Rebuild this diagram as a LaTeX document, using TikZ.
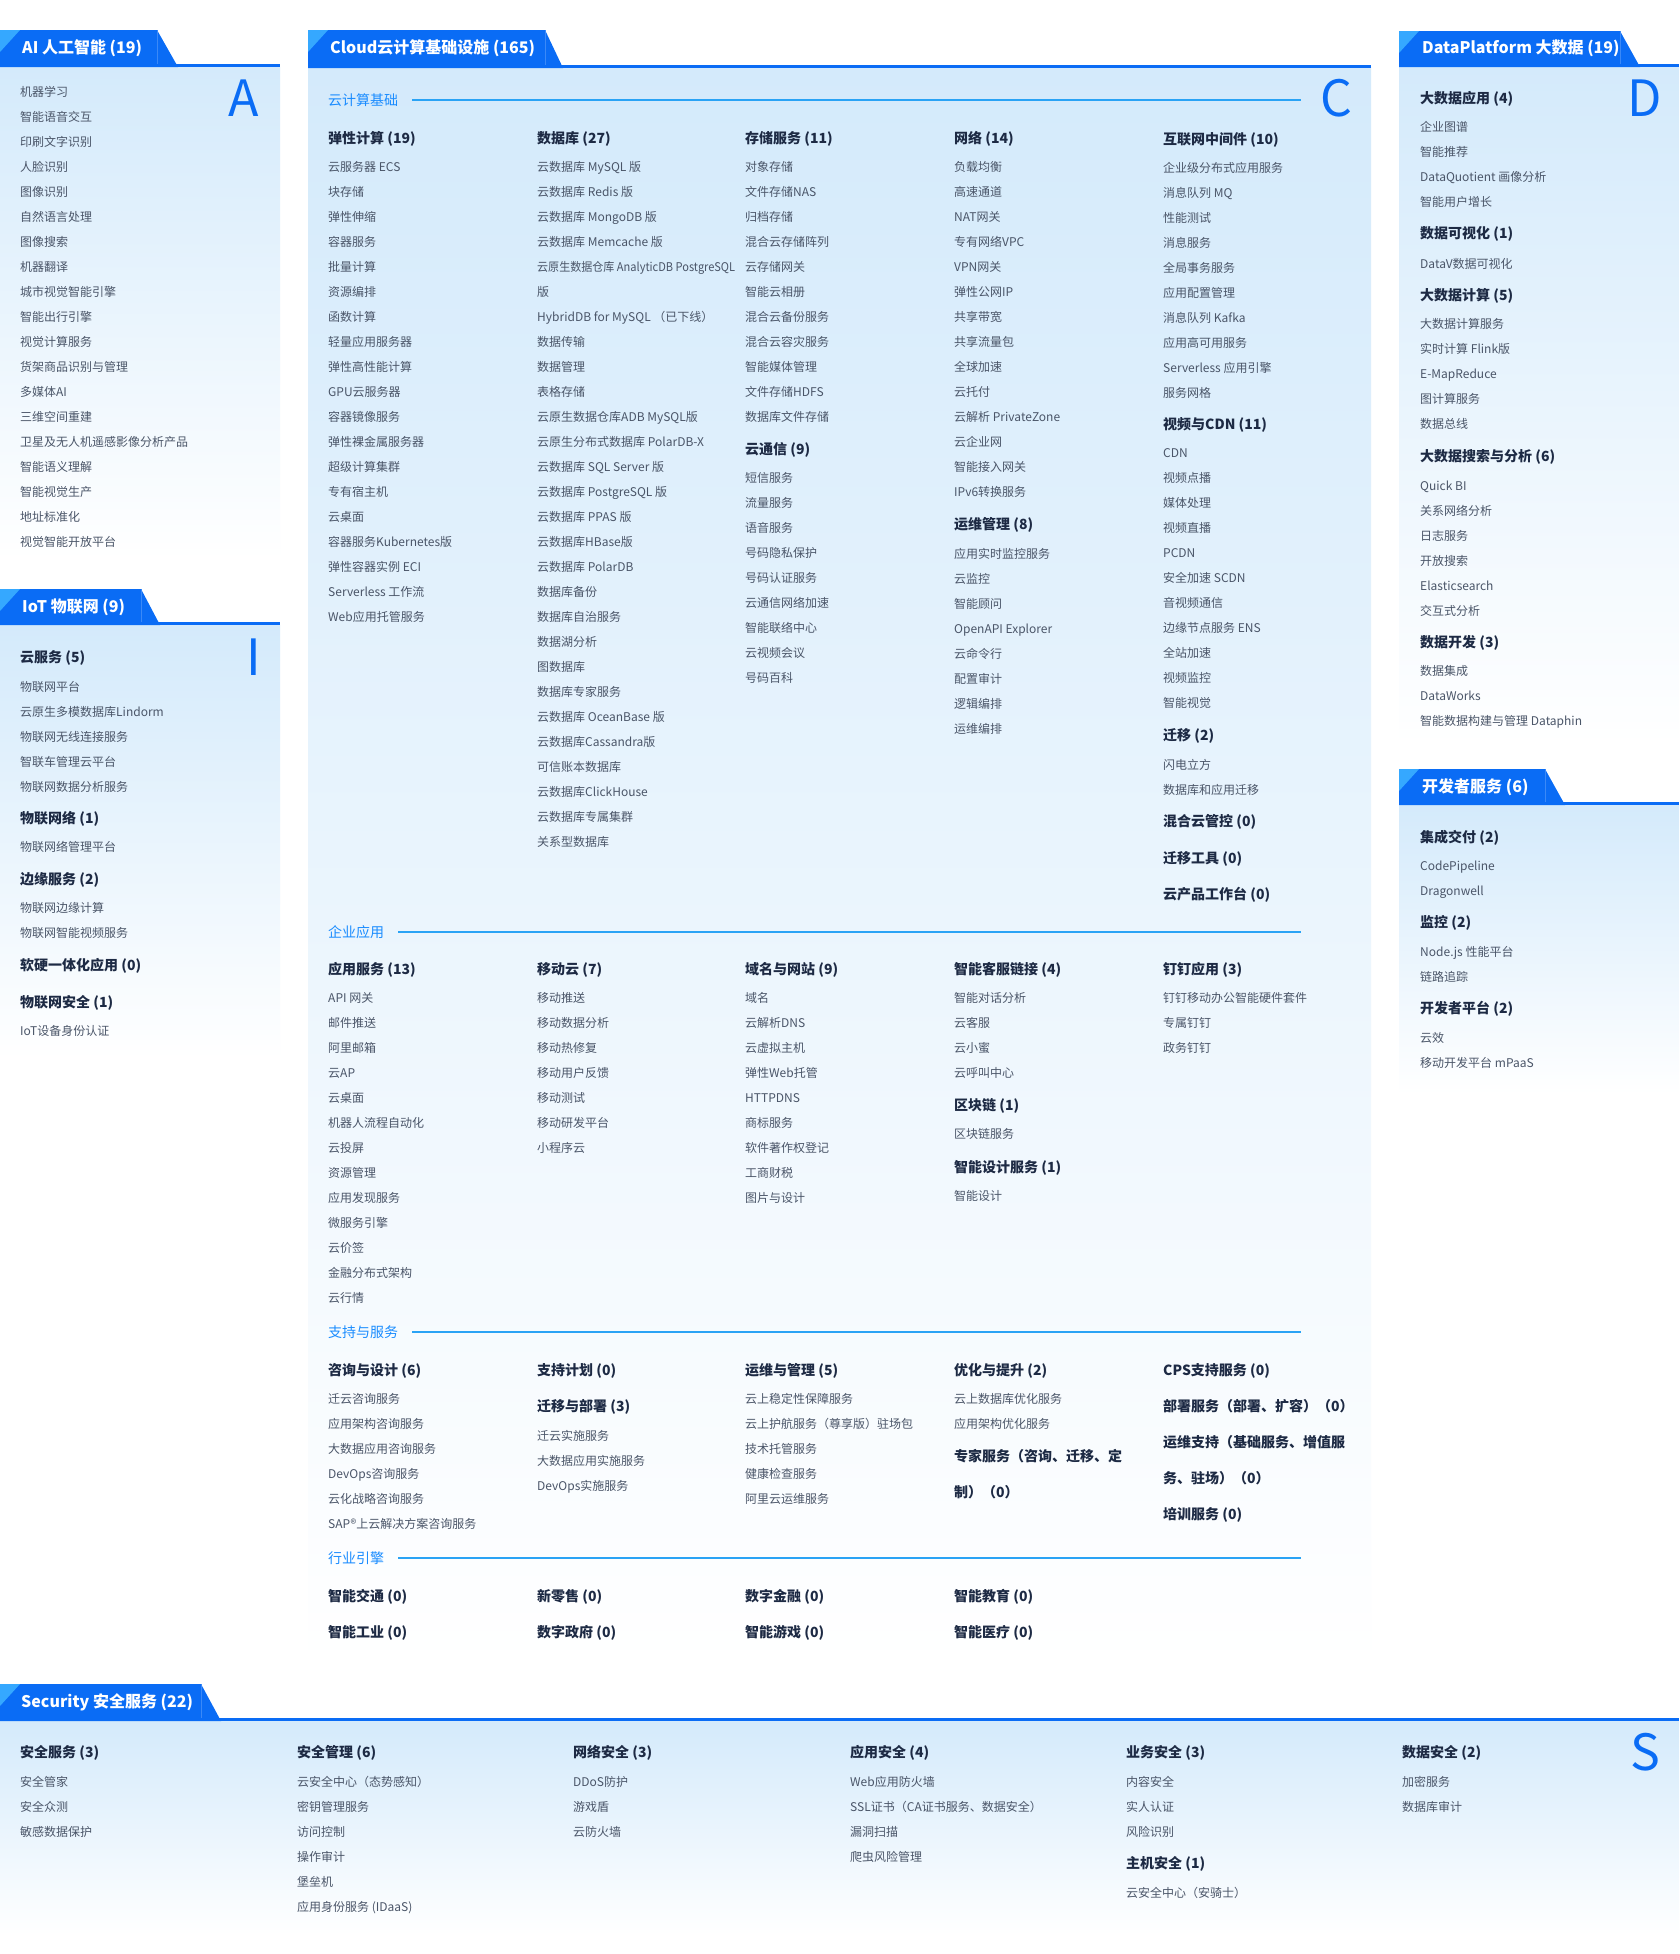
\documentclass[tikz,border=0pt]{standalone}
\usepackage{graphicx}
\usepackage{fontspec}
\setmainfont{Noto Sans CJK SC}
\usetikzlibrary{calc}
\definecolor{tabblue}{HTML}{0A6CF5}
\definecolor{tablight}{HTML}{35A8FF}
\definecolor{seclabel}{HTML}{1A8CFF}
\definecolor{seclinecol}{HTML}{2AA3F5}
\definecolor{hdcol}{HTML}{1D2A44}
\definecolor{itcol}{HTML}{4A5568}
\definecolor{bgtop}{HTML}{D4EAFB}
\definecolor{bgmid}{HTML}{EAF5FE}
\tikzset{
  itm/.style={anchor=base west, inner sep=0pt, text=itcol, font=\fontsize{12}{14}\selectfont},
  hd/.style={anchor=base west, inner sep=0pt, text=hdcol, font=\fontsize{14}{16}\selectfont\bfseries},
  seclab/.style={anchor=base west, inner sep=0pt, text=seclabel, font=\fontsize{14}{16}\selectfont},
  tabtxt/.style={anchor=base west, inner sep=0pt, text=white, font=\fontsize{16}{18}\selectfont\bfseries},
  bigl/.style={inner sep=0pt, text=tabblue, font=\fontsize{50}{52}\selectfont},
  secline/.style={draw=seclinecol, line width=2pt},
}
\newcommand{\Hd}[4]{\node[hd] (#1) at (#2,#3+5.1) {#4};}
\newcommand{\Its}[4]{\foreach \itx [count=\ii from 0] in {#4}{\node[itm] (#1\ii) at (#2,#3+4.4+25*\ii) {\itx};}}
% x0, ytop, xr, xs, ybot, xend
\newcommand{\Tab}[6]{%
  \fill[tabblue] (#1,#2) -- (#3,#2) -- (#4,#5) -- (#1,#5) -- cycle;
  \fill[tabblue] (#1,#5-3) rectangle (#6,#5);
  \fill[tablight] (#1,#2) -- (#1+20,#2) -- (#1,#2+22) -- cycle;
  \draw[tabblue!80!white, line width=0.6pt] (#3,#2) -- (#3,#5-3);
}
\newcommand{\Sec}[4]{% name, x, y, text
  \node[seclab] (#1) at (#2,#3+5.1) {#4};
  \coordinate (#1e) at (1301,#3);
  \draw[secline] ([xshift=14pt]#1.east |- #1e) -- (#1e);
}
\begin{document}
\begin{tikzpicture}[x=1pt,y=-1pt]
\useasboundingbox (0,0) rectangle (1679,1954);
\fill[white] (0,0) rectangle (1679,1954);
% ---------- panels ----------
\shade[top color=bgtop, bottom color=white] (0,67) rectangle (280,560);
\shade[top color=bgtop, bottom color=white] (0,625) rectangle (280,1060);
\shade[top color=bgtop, middle color=bgmid, bottom color=white] (308,67) rectangle (1371,1668);
\shade[top color=bgtop, bottom color=white] (1399,67) rectangle (1679,745);
\shade[top color=bgtop, bottom color=white] (1399,805) rectangle (1679,1095);
\shade[top color=bgtop, bottom color=white] (0,1721) rectangle (1679,1935);
% ---------- tabs ----------
\Tab{0}{30}{157}{178}{67}{280}
\node[tabtxt] (tAI) at (22,48+5.8) {AI 人工智能 (19)};
\Tab{0}{589}{141}{160}{625}{280}
\node[tabtxt] (tIoT) at (22,607+5.8) {IoT 物联网 (9)};
\Tab{308}{30}{545}{563}{68}{1371}
\node[tabtxt] (tCloud) at (330,48+5.8) {Cloud云计算基础设施 (165)};
\Tab{1399}{31}{1620}{1640}{67}{1679}
\node[tabtxt] (tData) at (1422,48+5.8) {DataPlatform 大数据 (19)};
\Tab{1399}{769}{1545}{1565}{805}{1679}
\node[tabtxt] (tDev) at (1422,787+5.8) {开发者服务 (6)};
\Tab{0}{1684}{201}{221}{1721}{1679}
\node[tabtxt] (tSec) at (21,1702+5.8) {Security 安全服务 (22)};
% ---------- big letters ----------
\node[bigl] (LA) at (244,98) {A};
\node[bigl] (LI) at (254,657) {I};
\node[bigl] (LC) at (1336,98) {C};
\node[bigl] (LD) at (1645,98) {D};
\node[bigl] (LS) at (1645,1752) {S};
% ---------- AI ----------
\Its{ai}{20}{92}{机器学习,智能语音交互,印刷文字识别,人脸识别,图像识别,自然语言处理,图像搜索,机器翻译,城市视觉智能引擎,智能出行引擎,视觉计算服务,货架商品识别与管理,多媒体AI,三维空间重建,卫星及无人机遥感影像分析产品,智能语义理解,智能视觉生产,地址标准化,视觉智能开放平台}
% ---------- IoT ----------
\Hd{ih1}{20}{657}{云服务 (5)}
\Its{ia}{20}{687}{物联网平台,云原生多模数据库Lindorm,物联网无线连接服务,智联车管理云平台,物联网数据分析服务}
\Hd{ih2}{20}{818}{物联网络 (1)}
\Its{ib}{20}{847}{物联网络管理平台}
\Hd{ih3}{20}{879}{边缘服务 (2)}
\Its{ic}{20}{908}{物联网边缘计算,物联网智能视频服务}
\Hd{ih4}{20}{965}{软硬一体化应用 (0)}
\Hd{ih5}{20}{1002}{物联网安全 (1)}
\Its{id}{20}{1031}{IoT设备身份认证}
% ---------- Cloud: 云计算基础 ----------
\Sec{s1}{328}{100}{云计算基础}
\Hd{c1h}{328}{138}{弹性计算 (19)}
\Its{c1i}{328}{167}{云服务器 ECS,块存储,弹性伸缩,容器服务,批量计算,资源编排,函数计算,轻量应用服务器,弹性高性能计算,GPU云服务器,容器镜像服务,弹性裸金属服务器,超级计算集群,专有宿主机,云桌面,容器服务Kubernetes版,弹性容器实例 ECI,Serverless 工作流,Web应用托管服务}
\Hd{c2h}{537}{138}{数据库 (27)}
\Its{c2i}{537}{167}{云数据库 MySQL 版,云数据库 Redis 版,云数据库 MongoDB 版,云数据库 Memcache 版,{\scalebox{0.92}[1]{云原生数据仓库 AnalyticDB PostgreSQL}},版,HybridDB for MySQL （已下线）,数据传输,数据管理,表格存储,云原生数据仓库ADB MySQL版,云原生分布式数据库 PolarDB-X,云数据库 SQL Server 版,云数据库 PostgreSQL 版,云数据库 PPAS 版,云数据库HBase版,云数据库 PolarDB,数据库备份,数据库自治服务,数据湖分析,图数据库,数据库专家服务,云数据库 OceanBase 版,云数据库Cassandra版,可信账本数据库,云数据库ClickHouse,云数据库专属集群,关系型数据库}
\Hd{c3h}{745}{138}{存储服务 (11)}
\Its{c3i}{745}{167}{对象存储,文件存储NAS,归档存储,混合云存储阵列,云存储网关,智能云相册,混合云备份服务,混合云容灾服务,智能媒体管理,文件存储HDFS,数据库文件存储}
\Hd{c3h2}{745}{449}{云通信 (9)}
\Its{c3j}{745}{478}{短信服务,流量服务,语音服务,号码隐私保护,号码认证服务,云通信网络加速,智能联络中心,云视频会议,号码百科}
\Hd{c4h}{954}{138}{网络 (14)}
\Its{c4i}{954}{167}{负载均衡,高速通道,NAT网关,专有网络VPC,VPN网关,弹性公网IP,共享带宽,共享流量包,全球加速,云托付,云解析 PrivateZone,云企业网,智能接入网关,IPv6转换服务}
\Hd{c4h2}{954}{524}{运维管理 (8)}
\Its{c4j}{954}{554}{应用实时监控服务,云监控,智能顾问,OpenAPI Explorer,云命令行,配置审计,逻辑编排,运维编排}
\Hd{c5h}{1163}{139}{互联网中间件 (10)}
\Its{c5i}{1163}{168}{企业级分布式应用服务,消息队列 MQ,性能测试,消息服务,全局事务服务,应用配置管理,消息队列 Kafka,应用高可用服务,Serverless 应用引擎,服务网格}
\Hd{c5h2}{1163}{424}{视频与CDN (11)}
\Its{c5j}{1163}{453}{CDN,视频点播,媒体处理,视频直播,PCDN,安全加速 SCDN,音视频通信,边缘节点服务 ENS,全站加速,视频监控,智能视觉}
\Hd{c5h3}{1163}{735}{迁移 (2)}
\Its{c5k}{1163}{765}{闪电立方,数据库和应用迁移}
\Hd{c5h4}{1163}{821}{混合云管控 (0)}
\Hd{c5h5}{1163}{858}{迁移工具 (0)}
\Hd{c5h6}{1163}{894}{云产品工作台 (0)}
% ---------- 企业应用 ----------
\Sec{s2}{328}{932}{企业应用}
\Hd{e1h}{328}{969}{应用服务 (13)}
\Its{e1i}{328}{998}{API 网关,邮件推送,阿里邮箱,云AP,云桌面,机器人流程自动化,云投屏,资源管理,应用发现服务,微服务引擎,云价签,金融分布式架构,云行情}
\Hd{e2h}{537}{969}{移动云 (7)}
\Its{e2i}{537}{998}{移动推送,移动数据分析,移动热修复,移动用户反馈,移动测试,移动研发平台,小程序云}
\Hd{e3h}{745}{969}{域名与网站 (9)}
\Its{e3i}{745}{998}{域名,云解析DNS,云虚拟主机,弹性Web托管,HTTPDNS,商标服务,软件著作权登记,工商财税,图片与设计}
\Hd{e4h}{954}{969}{智能客服链接 (4)}
\Its{e4i}{954}{998}{智能对话分析,云客服,云小蜜,云呼叫中心}
\Hd{e4h2}{954}{1105}{区块链 (1)}
\Its{e4j}{954}{1134}{区块链服务}
\Hd{e4h3}{954}{1167}{智能设计服务 (1)}
\Its{e4k}{954}{1196}{智能设计}
\Hd{e5h}{1163}{969}{钉钉应用 (3)}
\Its{e5i}{1163}{998}{钉钉移动办公智能硬件套件,专属钉钉,政务钉钉}
% ---------- 支持与服务 ----------
\Sec{s3}{328}{1332}{支持与服务}
\Hd{p1h}{328}{1370}{咨询与设计 (6)}
\Its{p1i}{328}{1399}{迁云咨询服务,应用架构咨询服务,大数据应用咨询服务,DevOps咨询服务,云化战略咨询服务,SAP®上云解决方案咨询服务}
\Hd{p2h}{537}{1370}{支持计划 (0)}
\Hd{p2h2}{537}{1406}{迁移与部署 (3)}
\Its{p2i}{537}{1436}{迁云实施服务,大数据应用实施服务,DevOps实施服务}
\Hd{p3h}{745}{1370}{运维与管理 (5)}
\Its{p3i}{745}{1399}{云上稳定性保障服务,云上护航服务（尊享版）驻场包,技术托管服务,健康检查服务,阿里云运维服务}
\Hd{p4h}{954}{1370}{优化与提升 (2)}
\Its{p4i}{954}{1399}{云上数据库优化服务,应用架构优化服务}
\Hd{p4h2}{954}{1456}{专家服务（咨询、迁移、定}
\Hd{p4h3}{954}{1492}{制）（0）}
\Hd{p5h}{1163}{1370}{CPS支持服务 (0)}
\Hd{p5h2}{1163}{1406}{部署服务（部署、扩容）（0）}
\Hd{p5h3}{1163}{1442}{运维支持（基础服务、增值服}
\Hd{p5h4}{1163}{1478}{务、驻场）（0）}
\Hd{p5h5}{1163}{1514}{培训服务 (0)}
% ---------- 行业引擎 ----------
\Sec{s4}{328}{1558}{行业引擎}
\Hd{g1}{328}{1596}{智能交通 (0)}
\Hd{g2}{537}{1596}{新零售 (0)}
\Hd{g3}{745}{1596}{数字金融 (0)}
\Hd{g4}{954}{1596}{智能教育 (0)}
\Hd{g5}{328}{1632}{智能工业 (0)}
\Hd{g6}{537}{1632}{数字政府 (0)}
\Hd{g7}{745}{1632}{智能游戏 (0)}
\Hd{g8}{954}{1632}{智能医疗 (0)}
% ---------- DataPlatform ----------
\Hd{d1h}{1420}{98}{大数据应用 (4)}
\Its{d1i}{1420}{127}{企业图谱,智能推荐,DataQuotient 画像分析,智能用户增长}
\Hd{d2h}{1420}{233}{数据可视化 (1)}
\Its{d2i}{1420}{264}{DataV数据可视化}
\Hd{d3h}{1420}{295}{大数据计算 (5)}
\Its{d3i}{1420}{324}{大数据计算服务,实时计算 Flink版,E-MapReduce,图计算服务,数据总线}
\Hd{d4h}{1420}{456}{大数据搜索与分析 (6)}
\Its{d4i}{1420}{486}{Quick BI,关系网络分析,日志服务,开放搜索,Elasticsearch,交互式分析}
\Hd{d5h}{1420}{642}{数据开发 (3)}
\Its{d5i}{1420}{671}{数据集成,DataWorks,智能数据构建与管理 Dataphin}
% ---------- 开发者服务 ----------
\Hd{v1h}{1420}{837}{集成交付 (2)}
\Its{v1i}{1420}{866}{CodePipeline,Dragonwell}
\Hd{v2h}{1420}{922}{监控 (2)}
\Its{v2i}{1420}{952}{Node.js 性能平台,链路追踪}
\Hd{v3h}{1420}{1008}{开发者平台 (2)}
\Its{v3i}{1420}{1038}{云效,移动开发平台 mPaaS}
% ---------- Security ----------
\Hd{x1h}{20}{1752}{安全服务 (3)}
\Its{x1i}{20}{1782}{安全管家,安全众测,敏感数据保护}
\Hd{x2h}{297}{1752}{安全管理 (6)}
\Its{x2i}{297}{1782}{云安全中心（态势感知）,密钥管理服务,访问控制,操作审计,堡垒机,应用身份服务 (IDaaS)}
\Hd{x3h}{573}{1752}{网络安全 (3)}
\Its{x3i}{573}{1782}{DDoS防护,游戏盾,云防火墙}
\Hd{x4h}{850}{1752}{应用安全 (4)}
\Its{x4i}{850}{1782}{Web应用防火墙,SSL证书（CA证书服务、数据安全）,漏洞扫描,爬虫风险管理}
\Hd{x5h}{1126}{1752}{业务安全 (3)}
\Its{x5i}{1126}{1782}{内容安全,实人认证,风险识别}
\Hd{x5h2}{1126}{1863}{主机安全 (1)}
\Its{x5j}{1126}{1893}{云安全中心（安骑士）}
\Hd{x6h}{1402}{1752}{数据安全 (2)}
\Its{x6i}{1402}{1782}{加密服务,数据库审计}
\end{tikzpicture}
\end{document}
